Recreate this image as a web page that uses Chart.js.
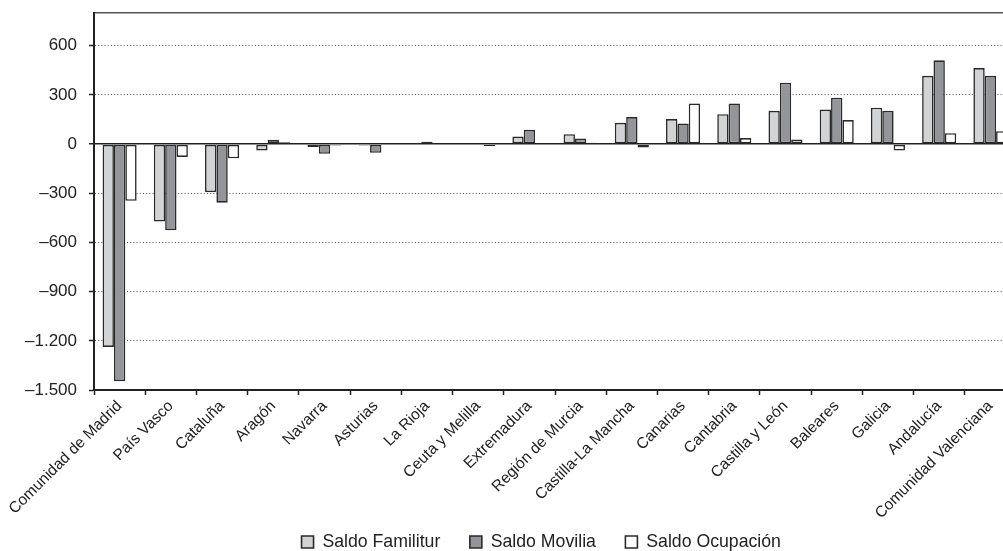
<!DOCTYPE html>
<html>
<head>
<meta charset="utf-8">
<script src="https://cdn.jsdelivr.net/npm/chart.js@4"></script>
<style>
html,body{margin:0;padding:0;overflow:hidden;background:#fff;width:1003px;height:551px}
#wrap{position:relative;width:1016px;height:561px}
canvas{display:block}
</style>
</head>
<body>
<div id="wrap"><canvas id="c" width="1016" height="561" style="width:1016px;height:561px"></canvas></div>
<script>
const categories = ['Comunidad de Madrid','País Vasco','Cataluña','Aragón','Navarra','Asturias','La Rioja','Ceuta y Melilla','Extremadura','Región de Murcia','Castilla-La Mancha','Canarias','Cantabria','Castilla y León','Baleares','Galicia','Andalucía','Comunidad Valenciana'];
const saldoFamilitur = [-1237,-472,-293,-39,-18,-8,0,0,46,61,130,153,183,203,211,222,417,464];
const saldoMovilia   = [-1446,-525,-357,26,-59,-53,14,0,87,34,165,126,248,375,283,203,511,417];
const saldoOcupacion = [-346,-78,-86,12,-8,0,0,-12,0,8,-21,248,37,28,147,-39,67,79];
const yTicks = [-1500,-1200,-900,-600,-300,0,300,600];
const yTickLabels = ['–1.500','–1.200','–900','–600','–300','0','300','600'];
const yMin = -1500, yMax = 800;

const FONT = "'Liberation Sans', Arial, Helvetica, sans-serif";
const TXT = '#222';

function ds(label, data, color){
  return {label, data, backgroundColor: color, borderColor: '#2a2a2a', borderWidth: 1.6,
    borderSkipped: false, categoryPercentage: 0.665, barPercentage: 1.0};
}

// place the legend row where the original has it
const legendPlacer = {
  id: 'legendPlacer',
  afterLayout(chart) {
    const lg = chart.legend;
    if (!lg) return;
    lg.top = 503.6; lg.bottom = 561; lg.height = lg.bottom - lg.top;
    lg.left = 66.5; lg.right = 1016; lg.width = lg.right - lg.left;
  }
};

new Chart(document.getElementById('c'), {
  type: 'bar',
  data: {
    labels: categories,
    datasets: [
      ds('Saldo Familitur', saldoFamilitur, '#d2d3d5'),
      ds('Saldo Movilia', saldoMovilia, '#939598'),
      ds('Saldo Ocupación', saldoOcupacion, '#ffffff')
    ]
  },
  plugins: [legendPlacer],
  options: {
    responsive: false,
    animation: false,
    devicePixelRatio: 1,
    layout: {padding: {left: 0, top: 13, right: 0, bottom: 0}},
    plugins: {
      tooltip: {enabled: false},
      legend: {
        position: 'bottom',
        maxHeight: 25,
        labels: {boxWidth: 12, boxHeight: 12, padding: 29.5, color: TXT,
          font: {family: FONT, size: 17.7}}
      }
    },
    scales: {
      x: {
        grid: {display: true, drawOnChartArea: false, drawTicks: true, tickLength: 5,
          offset: true, color: '#222', tickColor: '#222', tickWidth: 1.5},
        border: {display: true, color: '#222', width: 2},
        ticks: {autoSkip: false, minRotation: 45, maxRotation: 45, padding: 2, color: TXT,
          font: {family: FONT, size: 15.5}},
        afterFit: s => { s.height = 146; s.paddingLeft = 0; s.paddingRight = 0; }
      },
      y: {
        min: yMin, max: yMax,
        afterBuildTicks: s => { s.ticks = yTicks.concat([yMax]).map(v => ({value: v})); },
        grid: {
          drawTicks: true, tickLength: 5,
          color: c => (c.tick && (c.tick.value === 0)) ? '#222' : '#555',
          lineWidth: c => (c.tick && (c.tick.value === 0 || c.tick.value === yMax)) ? 1.5 : 1,
          tickColor: c => (c.tick && c.tick.value === yMax) ? 'rgba(0,0,0,0)' : '#222',
          tickWidth: 1.5
        },
        border: {display: true, color: '#222', width: 2,
          dash: c => (c.tick && c.tick.value !== 0 && c.tick.value !== yMax && c.tick.value !== yMin) ? [1, 2.2] : []},
        ticks: {
          padding: 12, color: TXT, font: {family: FONT, size: 17},
          callback: v => { const i = yTicks.indexOf(v); return i >= 0 ? yTickLabels[i] : ''; }
        },
        afterFit: s => { s.width = 94; s.paddingTop = 0; s.paddingBottom = 0; }
      }
    }
  }
});
</script>
</body>
</html>
